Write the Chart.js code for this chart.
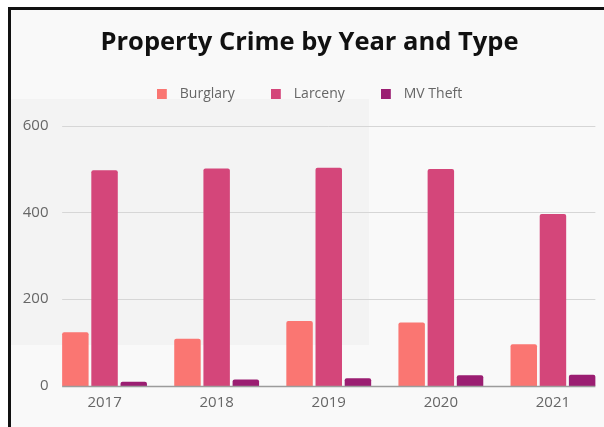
<!DOCTYPE html>
<html>
<head>
<meta charset="utf-8">
<title>Property Crime by Year and Type</title>
<script src="https://cdn.jsdelivr.net/npm/chart.js@4"></script>
<style>
  html, body { margin: 0; padding: 0; background: #fff; overflow: hidden; }
  #wrap { position: relative; width: 604px; height: 427px; overflow: hidden; }
  #panel { position: absolute; left: 8px; top: 7px; right: 0; bottom: 0; background: #f9f9f9; }
  #shade { position: absolute; left: 11px; top: 99px; width: 358px; height: 246px; background: #f3f3f3; }
  #crime-chart { position: absolute; left: 0; top: 0; }
  #frame { position: absolute; left: 8px; top: 7px; right: 0; bottom: 0;
           border-top: 3px solid #111; border-left: 3px solid #111; pointer-events: none; }
</style>
</head>
<body>
<div id="wrap">
  <div id="panel"></div>
  <div id="shade"></div>
  <canvas id="crime-chart" width="620" height="427"></canvas>
  <div id="frame"></div>
</div>
<script>
const years = ['2017', '2018', '2019', '2020', '2021'];
const burglary = [124, 109, 150, 146, 96];
const larceny = [497, 501, 503, 500, 396];
const mvTheft = [10, 15, 18, 25, 26];
const yTicks = [0, 200, 400, 600];

const seriesColors = ['#fa7672', '#d4467a', '#9b1e72'];

Chart.defaults.font.family = "'Open Sans', sans-serif";

// small square swatch with some room after it, used as the legend marker
function makeSwatch(color) {
  const c = document.createElement('canvas');
  c.width = 16;
  c.height = 10;
  const ctx = c.getContext('2d');
  ctx.fillStyle = color;
  ctx.fillRect(0, 0, 10, 10);
  return c;
}

// keep the legend short so the plot starts right under it
const legendHeight = {
  id: 'legendHeight',
  beforeInit(chart) {
    const fit = chart.legend.fit;
    chart.legend.fit = function () {
      fit.call(this);
      this.height = 75;
    };
  }
};

// horizontal grid lines that only span the bar groups
const gridLines = {
  id: 'gridLines',
  spanOf(chart) {
    const first = chart.getDatasetMeta(0).data[0];
    const lastMeta = chart.getDatasetMeta(chart.data.datasets.length - 1);
    const last = lastMeta.data[lastMeta.data.length - 1];
    return [first.x - first.width / 2, last.x + last.width / 2];
  },
  line(ctx, y, left, right, color, width) {
    ctx.strokeStyle = color;
    ctx.lineWidth = width;
    ctx.beginPath();
    ctx.moveTo(left, y);
    ctx.lineTo(right, y);
    ctx.stroke();
  },
  beforeDatasetsDraw(chart) {
    const { ctx, scales: { y } } = chart;
    const [left, right] = this.spanOf(chart);
    ctx.save();
    y.ticks.forEach(t => {
      if (t.value === 0) return;
      const py = Math.round(y.getPixelForValue(t.value)) + 0.5;
      this.line(ctx, py, left, right, '#d6d6d6', 1);
    });
    ctx.restore();
  },
  afterDatasetsDraw(chart) {
    const { ctx, scales: { y } } = chart;
    const [left, right] = this.spanOf(chart);
    ctx.save();
    this.line(ctx, Math.round(y.getPixelForValue(0)) + 0.5, left, right, '#9c9c9c', 1.5);
    ctx.restore();
  }
};

const tickFont = { family: "'Open Sans', sans-serif", size: 15 };

new Chart(document.getElementById('crime-chart'), {
  type: 'bar',
  data: {
    labels: years,
    datasets: [
      { label: 'Burglary', data: burglary, backgroundColor: seriesColors[0] },
      { label: 'Larceny', data: larceny, backgroundColor: seriesColors[1] },
      { label: 'MV Theft', data: mvTheft, backgroundColor: seriesColors[2] }
    ]
  },
  options: {
    responsive: false,
    animation: false,
    layout: { padding: { left: 10, right: 11, top: 0, bottom: 7 } },
    datasets: {
      bar: {
        categoryPercentage: 0.781,
        barPercentage: 0.907,
        borderRadius: 2,
        borderSkipped: 'start'
      }
    },
    scales: {
      x: {
        grid: { display: false, drawTicks: false },
        border: { display: false },
        ticks: { color: '#666', font: tickFont, padding: 8 }
      },
      y: {
        min: 0,
        max: 600,
        grid: { display: false, drawTicks: false },
        border: { display: false },
        ticks: { color: '#666', font: tickFont, padding: 0 },
        afterBuildTicks: scale => { scale.ticks = yTicks.map(v => ({ value: v })); },
        afterFit: scale => { scale.width = 38.5; }
      }
    },
    plugins: {
      title: {
        display: true,
        text: 'Property Crime by Year and Type',
        color: '#111',
        font: { family: "'Open Sans', sans-serif", size: 25.5, weight: 'bold', lineHeight: 0.7 },
        padding: { top: 34.3, bottom: -1.6 }
      },
      legend: {
        labels: {
          color: '#666',
          font: { family: "'Open Sans', sans-serif", size: 14 },
          usePointStyle: true,
          pointStyleWidth: 16,
          padding: 36,
          generateLabels: chart => Chart.defaults.plugins.legend.labels.generateLabels(chart)
            .map(item => Object.assign(item, { pointStyle: makeSwatch(seriesColors[item.datasetIndex]) }))
        }
      },
      tooltip: { enabled: false }
    }
  },
  plugins: [legendHeight, gridLines]
});
</script>
</body>
</html>
